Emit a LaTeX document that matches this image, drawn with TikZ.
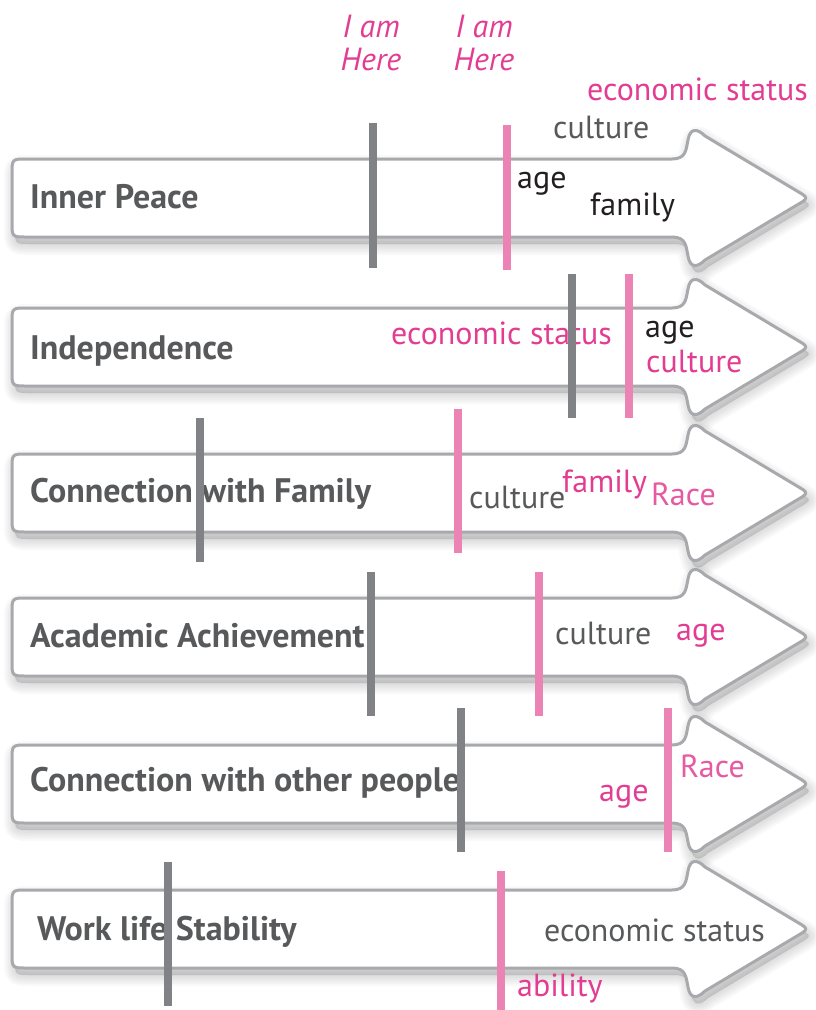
\documentclass[tikz,border=0pt]{standalone}
\usepackage{fontspec}
\setmainfont{PT Sans}
\definecolor{rimgray}{HTML}{A7A9AC}
\definecolor{bargray}{HTML}{808285}
\definecolor{barpink}{HTML}{EB84B5}
\definecolor{txtpink}{HTML}{E23D92}
\definecolor{txtgray}{HTML}{58595B}
\definecolor{txtdark}{HTML}{231F20}
\tikzset{rim/.style = {draw=rimgray, line width=3, fill=white, line join=round}}
\tikzset{haze/.style = {draw=black, fill=black, opacity=0.025, line join=round}}
\tikzset{bar/.style = {line width=8}}
\tikzset{lbl/.style = {anchor=base west, inner sep=0, font=\fontsize{34}{36}\selectfont\bfseries, text=txtgray}}
\tikzset{tag/.style = {anchor=base west, inner sep=0, font=\fontsize{32}{34}\selectfont}}
\tikzset{here/.style = {align=center, inner sep=0, text=txtpink, font=\fontsize{32}{33}\selectfont\itshape}}
\newcommand{\arrowshape}{(27,-39) -- (672,-39)
  .. controls (686,-39) and (686,-48) .. (688,-58)
  .. controls (690,-70) and (697,-70) .. (705,-62) -- (802,-4)
  .. controls (807,-1) and (807,1) .. (802,4) -- (705,62)
  .. controls (697,70) and (690,70) .. (688,58)
  .. controls (686,48) and (686,39) .. (672,39) -- (27,39)
  .. controls (12,39) and (12,39) .. (12,24) -- (12,-24)
  .. controls (12,-39) and (12,-39) .. (27,-39) -- cycle}

\begin{document}
\begin{tikzpicture}[x=1pt, y=-1pt]
      \useasboundingbox (0,0) rectangle (816,1010);

      % shadows, then the arrows
      \foreach \c in {198,347,493,637,784,929} {
        \foreach \w in {2,6,...,22}
          \path [haze, line width=\w, shift={(3,\c+7)}] \arrowshape;
      }
      \foreach \c in {198,347,493,637,784,929}
        \path [rim, shift={(0,\c)}] \arrowshape;

      \node [here] (here1) at (371,43) {I am\\Here};
      \node [here] (here2) at (484,43) {I am\\Here};

      % Inner Peace
      \node [lbl] (peace) at (30,208) {Inner Peace};
      \node [tag, text=txtpink] (econ1) at (587,100) {economic status};
      \node [tag, text=txtgray] (cult1) at (553,138) {culture};
      \node [tag, text=txtdark] (age1) at (517,188) {age};
      \node [tag, text=txtdark] (fam1) at (590,215) {family};
      \draw [bar, bargray] (373,123) -- (373,268);
      \draw [bar, barpink] (507,125) -- (507,270);

      % Independence
      \node [lbl] (indep) at (30,359) {Independence};
      \node [tag, text=txtpink] (econ2) at (391,344) {economic status};
      \node [tag, text=txtdark] (age2) at (645,337) {age};
      \node [tag, text=txtpink] (cult2) at (646,372) {culture};
      \draw [bar, bargray] (572,274) -- (572,418);
      \draw [bar, barpink] (629,274) -- (629,418);

      % Connection with Family
      \node [lbl] (family) at (30,502) {Connection with Family};
      \node [tag, text=txtgray] (cult3) at (469,508) {culture};
      \node [tag, text=txtpink] (fam3) at (562,492) {family};
      \node [tag, text=txtpink!85] (race3) at (651,505) {Race};
      \draw [bar, bargray] (200,418) -- (200,562);
      \draw [bar, barpink] (458,409) -- (458,553);

      % Academic Achievement
      \node [lbl] (acad) at (30,647) {Academic Achievement};
      \node [tag, text=txtgray] (cult4) at (555,644) {culture};
      \node [tag, text=txtpink] (age4) at (676,640) {age};
      \draw [bar, bargray] (371,572) -- (371,716);
      \draw [bar, barpink] (539,572) -- (539,716);

      % Connection with other people
      \node [lbl] (people) at (30,791) {Connection with other people};
      \node [tag, text=txtpink] (age5) at (599,801) {age};
      \node [tag, text=txtpink!85] (race5) at (680,777) {Race};
      \draw [bar, bargray] (461,708) -- (461,852);
      \draw [bar, barpink] (668,708) -- (668,852);

      % Work life Stability
      \node [lbl] (work) at (37,940) {Work life Stability};
      \node [tag, text=txtgray] (econ6) at (544,941) {economic status};
      \node [tag, text=txtpink] (abil6) at (517,996) {ability};
      \draw [bar, bargray] (168,862) -- (168,1006);
      \draw [bar, barpink] (501,871) -- (501,1010);
    \end{tikzpicture}
\end{document}
